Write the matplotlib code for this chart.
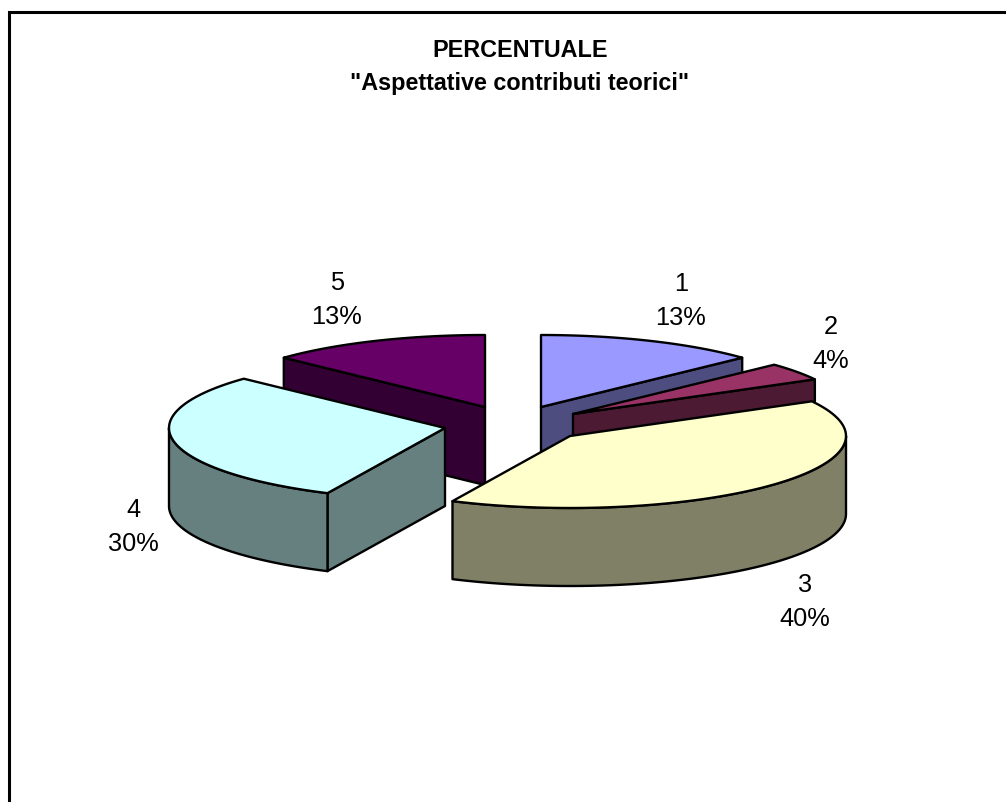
import numpy as np
import matplotlib
matplotlib.use("Agg")
import matplotlib.pyplot as plt
from matplotlib.patches import Polygon

plt.rcParams["font.family"] = ["Liberation Sans", "DejaVu Sans"]

TITLE = 'PERCENTUALE\n"Aspettative contributi teorici"'
categories = ["1", "2", "3", "4", "5"]
percent = [13, 4, 40, 30, 13]
top_colors = ["#9999FF", "#993366", "#FFFFCC", "#CCFFFF", "#660066"]
side_colors = ["#4D4D80", "#4D1A33", "#808066", "#668080", "#330033"]

# layout, in image pixels
A, B, DEPTH = 276, 72, 78
apex = [(541, 408), (573, 415), (570, 437), (445, 429), (485, 408)]
label_pos = [(681, 301), (831, 344), (805, 602), (133, 527), (337, 300)]
draw_order = [4, 0, 1, 3, 2]

fracs = np.array(percent) / sum(percent)
ends = np.cumsum(fracs) * 2 * np.pi
starts = ends - fracs * 2 * np.pi


def rim(cx, cy, a0, a1, dy=0):
    t = np.linspace(a0, a1, 80)
    return np.column_stack([cx + A * np.sin(t), cy + dy - B * np.cos(t)])


def cut_face(ax, cx, cy, angle, color):
    c = np.array([cx, cy])
    p = np.array([cx + A * np.sin(angle), cy - B * np.cos(angle)])
    down = np.array([0, DEPTH])
    ax.add_patch(Polygon([c, p, p + down, c + down], facecolor=color, **style))


fig = plt.figure(figsize=(10.06, 8.03), dpi=100)
ax = fig.add_axes([0, 0, 1, 1])
ax.set_xlim(0, 1006)
ax.set_ylim(803, 0)
ax.axis("off")

# chart frame, cropped at the right and bottom of the image
ax.plot([9.5, 9.5, 1006], [803, 13, 13], color="black", lw=2.2, solid_joinstyle="miter")

style = dict(edgecolor="black", lw=1.7, joinstyle="round")
for i in draw_order:
    cx, cy = apex[i]
    a0, a1 = starts[i], ends[i]

    # cut faces that turn towards the viewer
    if np.sin(a1) > 1e-9:
        cut_face(ax, cx, cy, a1, side_colors[i])
    if np.sin(a0) < -1e-9:
        cut_face(ax, cx, cy, a0, side_colors[i])

    # outer wall, front half of the ellipse only
    w0, w1 = max(a0, np.pi / 2), min(a1, 3 * np.pi / 2)
    if w1 > w0:
        upper = rim(cx, cy, w0, w1)
        lower = rim(cx, cy, w1, w0, DEPTH)
        ax.add_patch(Polygon(np.vstack([upper, lower]), facecolor=side_colors[i], **style))

    # top
    ax.add_patch(Polygon(np.vstack([[cx, cy], rim(cx, cy, a0, a1)]), facecolor=top_colors[i], **style))

ax.text(520, 67, TITLE, ha="center", va="center", fontsize=16.8, fontweight="bold", linespacing=1.55)
for name, pct, (x, y) in zip(categories, percent, label_pos):
    ax.text(x, y, f"{name}\n{pct}%", ha="center", va="center", fontsize=18.3, linespacing=1.52)

fig.savefig("out.png", dpi=100)
